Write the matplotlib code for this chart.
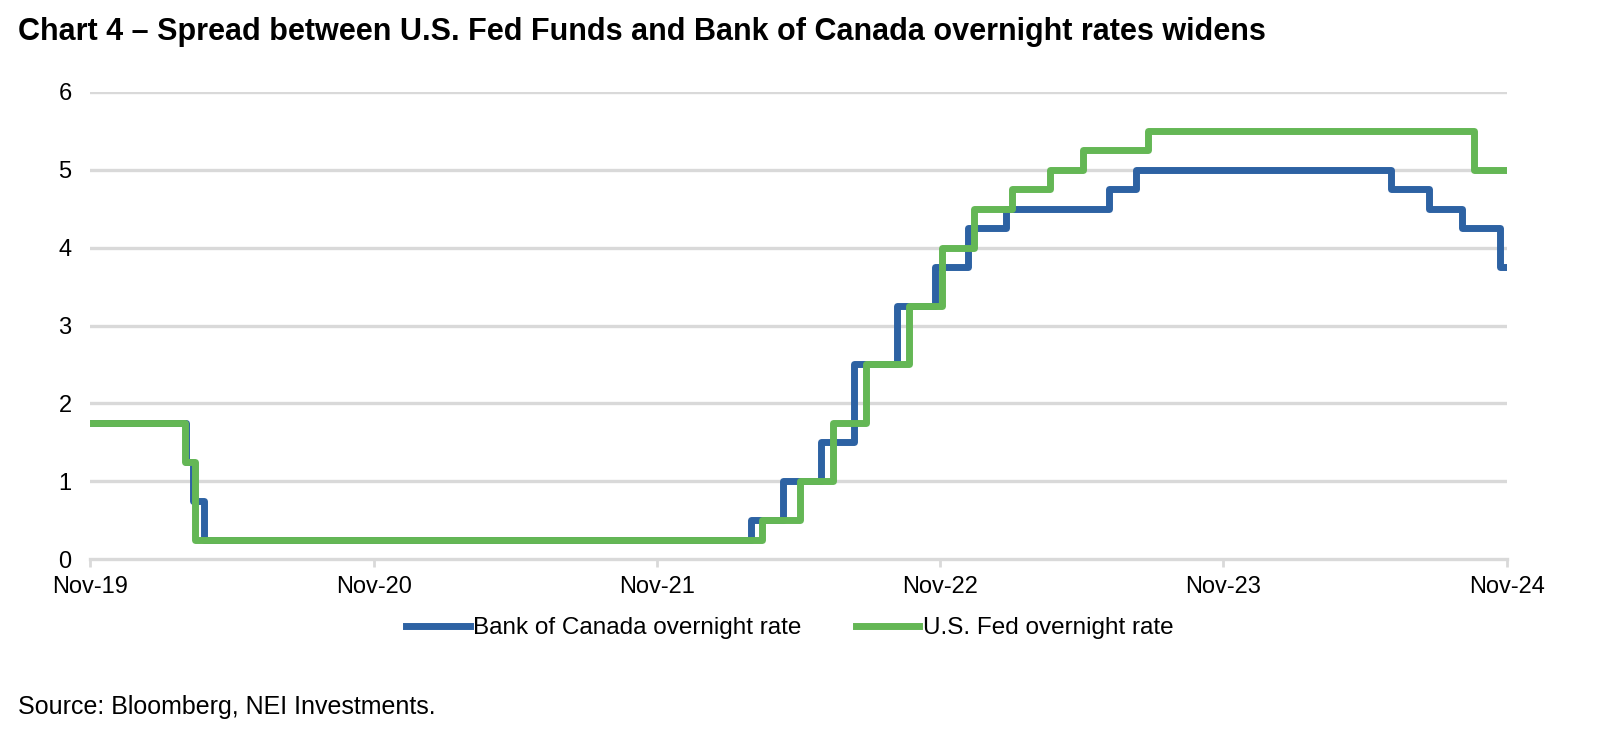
import matplotlib
matplotlib.use("Agg")
import matplotlib.pyplot as plt
import pandas as pd

plt.rcParams['font.family'] = ['Liberation Sans', 'DejaVu Sans']

title = "Chart 4 \u2013 Spread between U.S. Fed Funds and Bank of Canada overnight rates widens"
source = "Source: Bloomberg, NEI Investments."

boc_dates = ['2019-11-01', '2020-03-04', '2020-03-13', '2020-03-27', '2022-03-02', '2022-04-13',
             '2022-06-01', '2022-07-13', '2022-09-07', '2022-10-26', '2022-12-07', '2023-01-25',
             '2023-06-07', '2023-07-12', '2024-06-05', '2024-07-24', '2024-09-04', '2024-10-23',
             '2024-11-01']
boc_rates = [1.75, 1.25, 0.75, 0.25, 0.50, 1.00, 1.50, 2.50, 3.25, 3.75, 4.25, 4.50,
             4.75, 5.00, 4.75, 4.50, 4.25, 3.75, 3.75]

fed_dates = ['2019-11-01', '2020-03-03', '2020-03-16', '2022-03-17', '2022-05-05', '2022-06-16',
             '2022-07-28', '2022-09-22', '2022-11-03', '2022-12-15', '2023-02-02', '2023-03-23',
             '2023-05-04', '2023-07-27', '2024-09-19', '2024-11-01']
fed_rates = [1.75, 1.25, 0.25, 0.50, 1.00, 1.75, 2.50, 3.25, 4.00, 4.50, 4.75, 5.00,
             5.25, 5.50, 5.00, 5.00]

x_ticks = ['2019-11-01', '2020-11-01', '2021-11-01', '2022-11-01', '2023-11-01', '2024-11-01']
x_labels = ['Nov-19', 'Nov-20', 'Nov-21', 'Nov-22', 'Nov-23', 'Nov-24']
y_ticks = [0, 1, 2, 3, 4, 5, 6]

blue = '#2D62A3'
green = '#64B755'
grid = '#D9D9D9'

fig = plt.figure(figsize=(15.98, 7.48), dpi=100)
ax = fig.add_axes([90/1598, (748-559)/748, 1417/1598, 467/748])

ax.step(pd.to_datetime(boc_dates), boc_rates, where='post', color=blue, lw=5,
        label='Bank of Canada overnight rate', zorder=3, solid_joinstyle='round')
ax.step(pd.to_datetime(fed_dates), fed_rates, where='post', color=green, lw=5,
        label='U.S. Fed overnight rate', zorder=4, solid_joinstyle='round')

ax.set_xlim(pd.Timestamp(x_ticks[0]), pd.Timestamp(x_ticks[-1]))
ax.set_ylim(0, 6)
ax.set_yticks(y_ticks)
ax.set_yticklabels([str(v) for v in y_ticks])
ax.set_xticks(pd.to_datetime(x_ticks))
ax.set_xticklabels(x_labels)

for v in y_ticks[1:]:
    ax.axhline(v, color=grid, lw=2.4, zorder=1)
for s in ['top', 'right', 'left']:
    ax.spines[s].set_visible(False)
ax.spines['bottom'].set_color(grid)
ax.spines['bottom'].set_linewidth(2.4)
ax.spines['bottom'].set_zorder(1)
ax.tick_params(axis='y', length=0, pad=18, labelsize=17)
ax.tick_params(axis='x', length=6, width=2, color=grid, pad=6.5, labelsize=17)
for lab in ax.get_yticklabels():
    lab.set_horizontalalignment('center')

fig.text(18/1598, 1-32/748, title, fontsize=22, fontweight='bold', va='center', ha='left')
fig.text(18/1598, 1-707/748, source, fontsize=18, va='center', ha='left')

h, l = ax.get_legend_handles_labels()
fig.legend(h, l, loc='center', bbox_to_anchor=(790/1598, 1-628/748), ncol=2, frameon=False,
           fontsize=17.5, handlelength=2.6, handletextpad=0.15, columnspacing=2.25)

fig.savefig('out.png', dpi=100)
